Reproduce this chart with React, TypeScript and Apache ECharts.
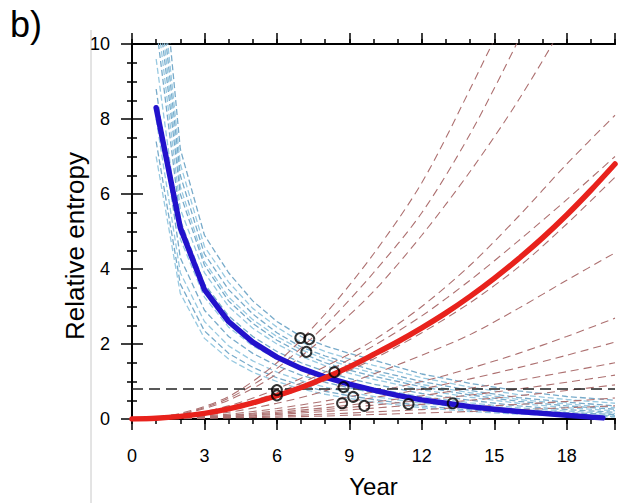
import React, { useEffect, useRef } from "react";
import * as echarts from "echarts";

const FONT = "'Liberation Sans', Arial, Helvetica, sans-serif";

// x positions (years)
const blueYears = [1, 2, 3, 4, 5, 6, 7, 8, 9, 10, 12, 14, 16, 18, 20];
const brownYears = [0, 2, 4, 6, 8, 10, 12, 14, 16, 18, 20];
const meanBlueYears = [1, 2, 3, 4, 5, 6, 7, 8, 9, 10, 11, 12, 13, 14, 15, 16, 17, 18, 19, 19.5];
const meanRedYears = [0, 1, 2, 3, 4, 5, 6, 7, 8, 9, 10, 11, 12, 13, 14, 15, 16, 17, 18, 19, 20];

// thick ensemble-mean curves
const meanBlue = [8.3, 5.1, 3.45, 2.6, 2.05, 1.65, 1.35, 1.12, 0.93, 0.77, 0.63, 0.51, 0.42, 0.33, 0.26, 0.2, 0.15, 0.1, 0.05, 0.03];
const meanRed = [0, 0.02, 0.07, 0.15, 0.27, 0.43, 0.62, 0.84, 1.1, 1.39, 1.72, 2.06, 2.43, 2.83, 3.27, 3.75, 4.27, 4.83, 5.44, 6.1, 6.8];

// light-blue dashed members (decaying)
const blueMembers = [
  [14, 7.2, 4.9, 3.9, 3.15, 2.6, 2.2, 1.95, 1.75, 1.57, 1.2, 0.95, 0.75, 0.6, 0.5],
  [13, 6.8, 4.6, 3.65, 2.95, 2.45, 2.05, 1.8, 1.6, 1.43, 1.1, 0.85, 0.65, 0.52, 0.42],
  [12.5, 6.5, 4.4, 3.45, 2.8, 2.3, 1.92, 1.68, 1.48, 1.3, 1.0, 0.76, 0.57, 0.45, 0.35],
  [12, 6.2, 4.2, 3.25, 2.65, 2.2, 1.85, 1.6, 1.4, 1.22, 0.92, 0.7, 0.52, 0.4, 0.3],
  [11.5, 6.0, 4.1, 3.15, 2.55, 2.1, 1.76, 1.5, 1.3, 1.14, 0.86, 0.64, 0.47, 0.35, 0.26],
  [11, 5.6, 3.9, 3.0, 2.42, 2.0, 1.67, 1.42, 1.22, 1.06, 0.78, 0.58, 0.42, 0.3, 0.22],
  [10.5, 5.3, 3.6, 2.75, 2.2, 1.8, 1.5, 1.27, 1.08, 0.93, 0.68, 0.5, 0.35, 0.25, 0.18],
  [9.6, 4.8, 3.25, 2.45, 1.95, 1.6, 1.33, 1.12, 0.95, 0.82, 0.6, 0.43, 0.3, 0.21, 0.15],
  [8.8, 4.3, 2.9, 2.2, 1.75, 1.42, 1.17, 0.98, 0.83, 0.7, 0.5, 0.35, 0.25, 0.17, 0.12],
  [8.0, 3.9, 2.6, 1.95, 1.55, 1.25, 1.02, 0.85, 0.71, 0.6, 0.42, 0.29, 0.2, 0.13, 0.09],
  [7.4, 3.6, 2.35, 1.75, 1.38, 1.1, 0.9, 0.74, 0.62, 0.52, 0.35, 0.24, 0.16, 0.1, 0.07],
  [7.0, 3.35, 2.15, 1.6, 1.25, 1.0, 0.8, 0.66, 0.55, 0.45, 0.3, 0.2, 0.13, 0.08, 0.05],
];

// brown dashed members (growing)
const brownMembers = [
  [0, 0.15, 0.6, 1.5, 2.8, 4.4, 6.3, 8.8, 11.5, 14.5, 18],
  [0, 0.13, 0.55, 1.35, 2.5, 3.9, 5.5, 7.6, 10.1, 12.8, 16],
  [0, 0.12, 0.5, 1.2, 2.2, 3.4, 4.9, 6.6, 8.5, 10.7, 13.5],
  [0, 0.08, 0.35, 0.8, 1.4, 2.1, 3.0, 4.1, 5.4, 6.8, 8.1],
  [0, 0.08, 0.3, 0.7, 1.25, 1.95, 2.75, 3.7, 4.75, 5.85, 7.0],
  [0, 0.06, 0.25, 0.58, 1.02, 1.6, 2.3, 3.1, 4.05, 5.2, 6.45],
  [0, 0.05, 0.18, 0.42, 0.75, 1.2, 1.7, 2.25, 2.95, 3.7, 4.43],
  [0, 0.04, 0.13, 0.28, 0.48, 0.72, 1.0, 1.35, 1.75, 2.2, 2.69],
  [0, 0.03, 0.1, 0.22, 0.38, 0.57, 0.8, 1.07, 1.37, 1.7, 2.05],
  [0, 0.03, 0.09, 0.18, 0.3, 0.45, 0.62, 0.82, 1.03, 1.26, 1.5],
  [0, 0.02, 0.07, 0.15, 0.25, 0.37, 0.5, 0.64, 0.8, 0.98, 1.17],
  [0, 0.02, 0.06, 0.12, 0.2, 0.29, 0.39, 0.5, 0.62, 0.76, 0.91],
  [0, 0.01, 0.04, 0.08, 0.13, 0.19, 0.25, 0.32, 0.39, 0.47, 0.56],
  [0, 0.01, 0.03, 0.05, 0.08, 0.12, 0.16, 0.2, 0.25, 0.3, 0.35],
];

// open circles
const circlePoints = [
  [6.97, 2.16], [7.34, 2.13], [7.22, 1.79], [8.38, 1.25], [6.0, 0.77], [6.0, 0.63],
  [8.76, 0.85], [9.16, 0.59], [8.7, 0.42], [9.62, 0.35], [11.45, 0.4], [13.28, 0.42],
];

const threshold = 0.8;
const xRange = [0, 20];
const yRange = [0, 10];

export default function App() {
  const ref = useRef<HTMLDivElement>(null);
  useEffect(() => {
    document.body.style.margin = "0";
    if (!ref.current) return;
    const chart = echarts.init(ref.current, null, { renderer: "svg" });
    const series: any[] = [];
    blueMembers.forEach((vals, i) => {
      series.push({
        type: "line",
        data: blueYears.map((x, j) => [x, vals[j]]),
        symbol: "none",
        silent: true,
        z: 2,
        lineStyle: { color: i % 2 ? "#98c9e1" : "#78abca", width: 1.3, type: [6, 3] },
      });
    });
    brownMembers.forEach((vals) => {
      series.push({
        type: "line",
        data: brownYears.map((x, j) => [x, vals[j]]),
        symbol: "none",
        silent: true,
        smooth: 0.3,
        z: 3,
        lineStyle: { color: "#ad7070", width: 1.1, type: [8, 5] },
      });
    });
    series.push({
      type: "line",
      data: xRange.map((x) => [x, threshold]),
      symbol: "none",
      silent: true,
      z: 4,
      lineStyle: { color: "#222", width: 1.3, type: [11, 6] },
    });
    series.push({
      type: "line",
      data: meanBlueYears.map((x, j) => [x, meanBlue[j]]),
      symbol: "none",
      z: 5,
      lineStyle: { color: "#2212cc", width: 5.5, cap: "round", join: "round" },
    });
    series.push({
      type: "line",
      data: meanRedYears.map((x, j) => [x, meanRed[j]]),
      symbol: "none",
      smooth: 0.3,
      z: 6,
      lineStyle: { color: "#e8221c", width: 5.5, cap: "round", join: "round" },
    });
    series.push({
      type: "scatter",
      data: circlePoints,
      symbol: "circle",
      symbolSize: 10,
      z: 10,
      itemStyle: { color: "rgba(0,0,0,0)", borderColor: "#000", borderWidth: 2 },
    });

    const axisLine = { show: true, lineStyle: { color: "#000", width: 2 } };
    const tickStyle = { color: "#000", width: 1.5 };
    const baseX = {
      type: "value",
      min: xRange[0],
      max: xRange[1],
      splitLine: { show: false },
      axisLine,
    };
    chart.setOption({
      animation: false,
      backgroundColor: "#fff",
      grid: { left: 132, right: 14, top: 44, bottom: 84, containLabel: false },
      graphic: [
        { type: "line", shape: { x1: 91, y1: 30, x2: 91, y2: 503 }, style: { stroke: "#c8c8c8", lineWidth: 1 } },
        { type: "text", left: 10, top: 6, style: { text: "b)", fontSize: 36, fontFamily: FONT, fill: "#000" } },
        {
          type: "text",
          x: 75,
          y: 246,
          rotation: Math.PI / 2,
          style: { text: "Relative entropy", fontSize: 26, fontFamily: FONT, fill: "#000", align: "center", verticalAlign: "middle" },
        },
      ],
      xAxis: [
        {
          ...baseX,
          position: "bottom",
          interval: 3,
          axisTick: { length: 11, lineStyle: tickStyle },
          axisLabel: {
            fontSize: 18,
            color: "#000",
            fontFamily: FONT,
            margin: 28,
            formatter: (v: number) => (v % 3 === 0 ? String(v) : ""),
          },
          name: "Year",
          nameLocation: "middle",
          nameGap: 55,
          nameTextStyle: { fontSize: 24, color: "#000", fontFamily: FONT },
        },
        { ...baseX, position: "bottom", interval: 1, axisTick: { length: 5, lineStyle: tickStyle }, axisLabel: { show: false } },
        { ...baseX, position: "top", interval: 3, axisTick: { length: 11, lineStyle: tickStyle }, axisLabel: { show: false } },
        { ...baseX, position: "top", interval: 1, axisTick: { length: 5, lineStyle: tickStyle }, axisLabel: { show: false } },
      ],
      yAxis: [
        {
          type: "value",
          position: "left",
          min: yRange[0],
          max: yRange[1],
          interval: 2,
          splitLine: { show: false },
          axisLine,
          axisTick: { length: 11, lineStyle: tickStyle },
          minorTick: { show: true, splitNumber: 4, length: 5, lineStyle: tickStyle },
          axisLabel: { fontSize: 18, color: "#000", fontFamily: FONT, margin: 22 },
        },
        {
          type: "value",
          position: "right",
          min: yRange[0],
          max: yRange[1],
          interval: 2,
          splitLine: { show: false },
          axisLine,
          axisTick: { length: 11, lineStyle: tickStyle },
          minorTick: { show: true, splitNumber: 4, length: 5, lineStyle: tickStyle },
          axisLabel: { show: false },
        },
      ],
      series,
    });
    return () => chart.dispose();
  }, []);
  return <div ref={ref} style={{ width: 629, height: 503 }} />;
}
